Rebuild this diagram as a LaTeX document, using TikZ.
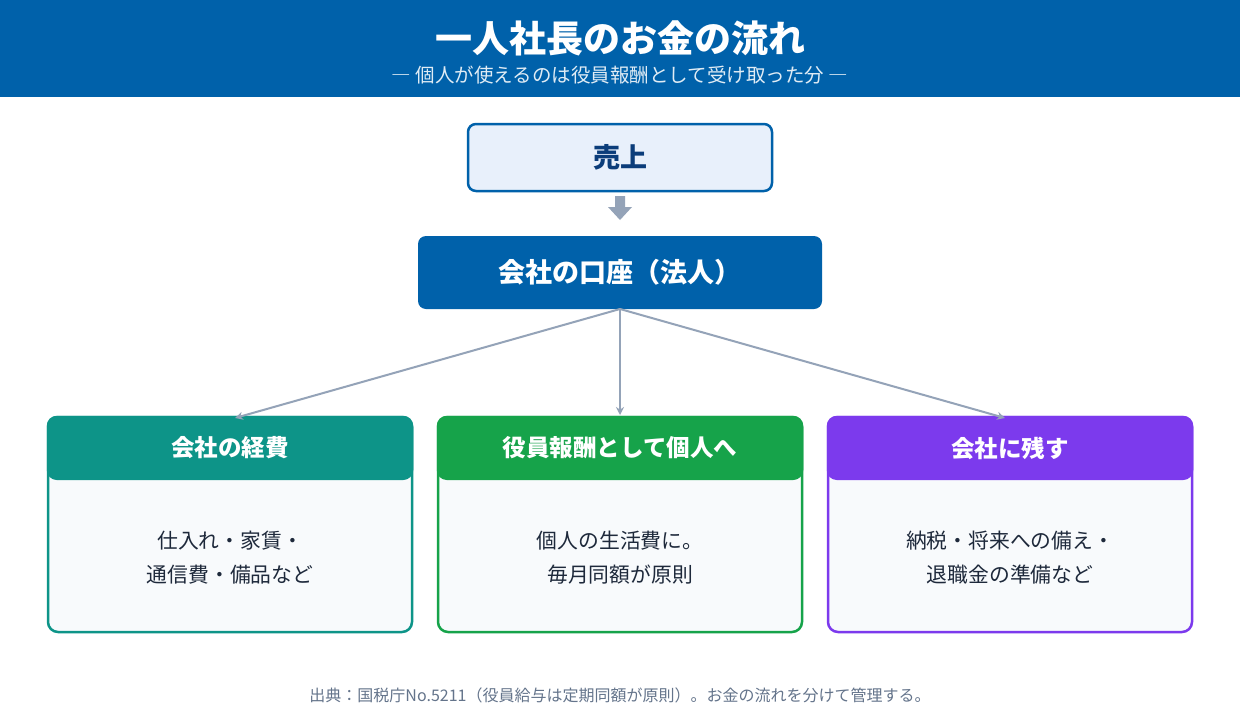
\documentclass[tikz,border=0pt]{standalone}
\usepackage{fontspec}
\setmainfont{Noto Sans CJK JP}
\usetikzlibrary{arrows.meta}
\definecolor{tblue}{HTML}{0061AA}
\definecolor{lblue}{HTML}{E8F0FB}
\definecolor{dblue}{HTML}{0B3D7A}
\definecolor{teal}{HTML}{0D9488}
\definecolor{grn}{HTML}{16A34A}
\definecolor{purp}{HTML}{7C3AED}
\definecolor{gry}{HTML}{94A3B8}
\definecolor{body}{HTML}{F8FAFC}
\definecolor{foot}{HTML}{64748B}
\definecolor{txt}{HTML}{1E293B}
\begin{document}
\begin{tikzpicture}[x=1pt,y=-1pt,
  conn/.style={gry,line width=2pt,-{Stealth[length=8pt,width=8pt]}},
  card/.style={draw=#1,line width=2.5pt,fill=body,rounded corners=10pt},
  head/.style={fill=#1,rounded corners=10pt},
  htext/.style={text=white,font=\bfseries\fontsize{23.5}{27}\selectfont},
  btext/.style={text=txt,font=\fontsize{20.8}{34}\selectfont,align=center}]
\useasboundingbox (0,0) rectangle (1240,720);
\fill[white] (0,0) rectangle (1240,720);
\fill[tblue] (0,0) rectangle (1240,97);
\node[text=white,font=\bfseries\fontsize{37}{40}\selectfont] (title) at (620,38) {一人社長のお金の流れ};
\node[text=white!88!tblue,font=\fontsize{19.5}{22}\selectfont] (sub) at (620,75) {― 個人が使えるのは役員報酬として受け取った分 ―};
\node[draw=tblue,line width=2.5pt,fill=lblue,rounded corners=8pt,minimum width=304pt,minimum height=67pt,text=dblue,font=\bfseries\fontsize{27}{30}\selectfont] (uri) at (620,157.5) {売上};
\node[fill=tblue,rounded corners=8pt,minimum width=404pt,minimum height=73pt,text=white,font=\bfseries\fontsize{27}{30}\selectfont] (koza) at (620,272.5) {会社の口座（法人）};
\fill[gry] (615,196) rectangle (625,207) -- (632,207) -- (620,220) -- (608,207) -- (615,207) -- cycle;
\coordinate (o) at (620,309);
\foreach \n/\x/\c/\h/\la/\lb in {a/230/teal/会社の経費/仕入れ・家賃・/通信費・備品など, b/620/grn/役員報酬として個人へ/個人の生活費に。/毎月同額が原則, c/1010/purp/会社に残す/納税・将来への備え・/退職金の準備など}{
  \draw[card=\c] (\x-182,417) rectangle (\x+182,632);
  \fill[head=\c] (\x-183.25,415.75) rectangle (\x+183.25,480);
  \node[htext] (h\n) at (\x,448) {\h};
  \node[btext] (t\n) at (\x,558) {\la\\\lb};
}
\coordinate (ea) at (235,418); \coordinate (eb) at (620,415); \coordinate (ec) at (1005,418);
\draw[conn] (o) -- (ea);
\draw[conn] (o) -- (eb);
\draw[conn] (o) -- (ec);
\node[text=foot,font=\fontsize{16}{18}\selectfont] (src) at (620,695) {出典：国税庁No.5211（役員給与は定期同額が原則）。お金の流れを分けて管理する。};
\end{tikzpicture}
\end{document}
